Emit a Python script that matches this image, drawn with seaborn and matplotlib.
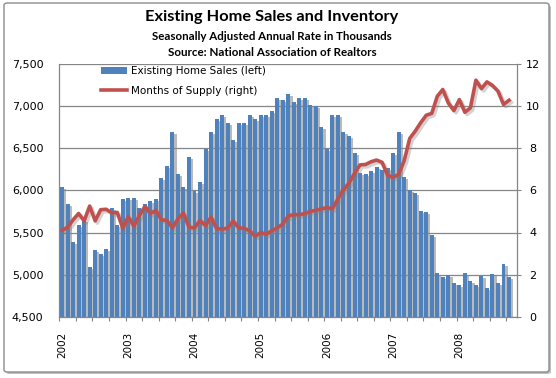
import numpy as np
import pandas as pd
import matplotlib
matplotlib.use("Agg")
import matplotlib.pyplot as plt
import matplotlib.patheffects as pe
from matplotlib.patches import Patch, FancyBboxPatch
from matplotlib.lines import Line2D
import seaborn as sns

# ---------------- data ----------------
years = ["2002", "2003", "2004", "2005", "2006", "2007", "2008"]

home_sales = [
    6040, 5835, 5385, 5590, 5650, 5090, 5290, 5245, 5300, 5790, 5590, 5895,
    5905, 5905, 5790, 5835, 5870, 5895, 6150, 6285, 6690, 6195, 6040, 6390,
    5990, 6100, 6490, 6690, 6840, 6890, 6795, 6595, 6795, 6795, 6890, 6840,
    6890, 6890, 6940, 7095, 7065, 7140, 7045, 7090, 7090, 7010, 7000, 6750,
    6490, 6890, 6890, 6690, 6640, 6440, 6200, 6195, 6230, 6270, 6245, 6265,
    6435, 6690, 6155, 6005, 5965, 5755, 5745, 5470, 5025, 4975, 4995, 4905,
    4880, 5025, 4930, 4880, 4990, 4845, 5010, 4905, 5130, 4975,
]

months_supply = [
    4.10, 4.25, 4.60, 4.90, 4.55, 5.25, 4.55, 5.08, 5.10, 4.93, 4.95, 4.20,
    4.75, 4.30, 4.80, 5.23, 4.90, 5.05, 4.60, 4.57, 4.22, 4.65, 4.92, 4.25,
    4.22, 4.57, 4.33, 4.73, 4.18, 4.17, 4.20, 4.55, 4.22, 4.20, 4.08, 3.82,
    4.00, 3.92, 4.08, 4.22, 4.40, 4.78, 4.85, 4.84, 4.90, 5.00, 5.05, 5.12,
    5.18, 5.12, 5.60, 6.02, 6.34, 6.80, 7.20, 7.22, 7.35, 7.43, 7.32, 6.70,
    6.62, 6.75, 7.40, 8.45, 8.80, 9.20, 9.55, 9.64, 10.45, 10.77, 10.13, 9.77,
    10.29, 9.69, 9.90, 11.21, 10.81, 11.13, 10.96, 10.69, 10.06, 10.26,
]

sales_label = "Existing Home Sales (left)"
supply_label = "Months of Supply (right)"
title = "Existing Home Sales and Inventory"
subtitle1 = "Seasonally Adjusted Annual Rate in Thousands"
subtitle2 = "Source: National Association of Realtors"

df = pd.DataFrame({
    "pos": np.arange(len(home_sales)),
    "sales": home_sales,
    "supply": months_supply,
})

BLUE = "#4F81BD"
RED = "#C0504D"
GRID = "#868686"

plt.rcParams["font.family"] = ["DejaVu Sans"]

W, H = 556, 378
fig = plt.figure(figsize=(W / 100, H / 100), dpi=100)
fig.patch.set_facecolor("white")

# outer chart frame with shadow
shadow = FancyBboxPatch((6 / W, 1 - 374 / H), 545 / W, 369 / H,
                        boxstyle="round,pad=0,rounding_size=0.006",
                        transform=fig.transFigure, facecolor="#BFBFBF",
                        edgecolor="none", zorder=-3)
frame = FancyBboxPatch((4 / W, 1 - 372 / H), 545 / W, 369 / H,
                       boxstyle="round,pad=0,rounding_size=0.006",
                       transform=fig.transFigure, facecolor="white",
                       edgecolor="#8C8C8C", linewidth=1.0, zorder=-2)
fig.patches.extend([shadow, frame])

left, right, top, bottom = 59.3, 517.3, 63.5, 317.0
ax = fig.add_axes([left / W, 1 - bottom / H, (right - left) / W, (bottom - top) / H])
ax.patch.set_alpha(0)

sns.barplot(data=df, x="pos", y="sales", native_scale=True, color=BLUE,
            saturation=1, width=0.72, errorbar=None, ax=ax, zorder=2)
for p in ax.patches:
    p.set_path_effects([pe.SimplePatchShadow(offset=(1.6, -1.4), shadow_rgbFace="#8C8C8C", alpha=0.6),
                        pe.Normal()])

n = len(home_sales)
ax.set_xlim(-0.5, n + 0.5)
ax.set_ylim(4500, 7500)
ax.set_yticks(np.arange(4500, 7501, 500))
ax.set_yticklabels([f"{v:,}" for v in range(4500, 7501, 500)])
ax.set_axisbelow(True)
ax.yaxis.grid(True, color=GRID, linewidth=0.9)
ax.xaxis.grid(False)
ax.set_xlabel("")
ax.set_ylabel("")

ax.set_xticks(np.arange(0, n, 12))
ax.set_xticklabels(years, rotation=90, fontsize=7.5)
ax.set_xticks(np.arange(-0.5, n + 0.5, 3), minor=True)
ax.tick_params(axis="x", which="major", length=0, pad=10.6)
ax.tick_params(axis="x", which="minor", length=3, width=0.8, color=GRID, direction="out")
ax.tick_params(axis="y", length=0, pad=11.5, labelsize=8)

for s in ["top", "right"]:
    ax.spines[s].set_visible(False)
for s in ["left", "bottom"]:
    ax.spines[s].set_color(GRID)
    ax.spines[s].set_linewidth(0.9)

ax2 = ax.twinx()
sns.lineplot(data=df, x="pos", y="supply", color=RED, linewidth=2.6, ax=ax2,
             path_effects=[pe.SimpleLineShadow(offset=(1.6, -1.6), shadow_color="#7F7F7F", alpha=0.35),
                           pe.Normal()], legend=False)
ax2.set_ylim(0, 12)
ax2.set_xlim(-0.5, n + 0.5)
ax2.set_yticks(np.arange(0, 13, 2))
ax2.set_ylabel("")
ax2.set_xlabel("")
ax2.tick_params(axis="y", length=3.2, width=0.8, color=GRID, direction="out", pad=7.8, labelsize=8)
for lbl in ax2.get_yticklabels():
    lbl.set_horizontalalignment("center")
for s in ["top", "left", "bottom"]:
    ax2.spines[s].set_visible(False)
ax2.spines["right"].set_color(GRID)
ax2.spines["right"].set_linewidth(0.9)

handles = [Patch(facecolor=BLUE, edgecolor="none"),
           Line2D([0], [0], color=RED, linewidth=2.6)]
ax2.legend(handles, [sales_label, supply_label], loc="upper left",
           bbox_to_anchor=((101 - left) / (right - left), (bottom - 66) / (bottom - top)),
           frameon=False, fontsize=7.5, handlelength=2.5, handleheight=0.75,
           handletextpad=0.35, labelspacing=0.95, borderpad=0, borderaxespad=0)

fig.text(272 / W, 1 - 17 / H, title, ha="center", va="center",
         fontsize=11.8, fontweight="bold", family=["Lato", "DejaVu Sans"])
fig.text(272 / W, 1 - 36 / H, subtitle1, ha="center", va="center",
         fontsize=8.3, fontweight="bold", family=["Lato", "DejaVu Sans"])
fig.text(272 / W, 1 - 53 / H, subtitle2, ha="center", va="center",
         fontsize=8.4, fontweight="bold", family=["Lato", "DejaVu Sans"])

fig.savefig("out.png", dpi=100, facecolor="white")
